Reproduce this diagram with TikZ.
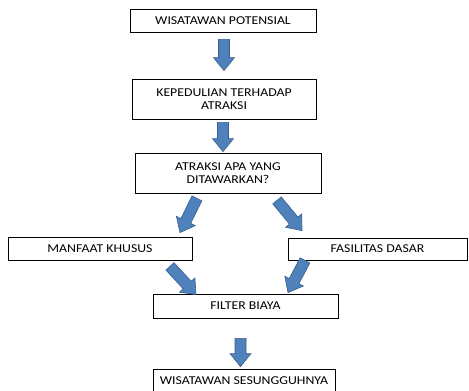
\documentclass[tikz,border=0pt]{standalone}
\usepackage{fontspec}
\setmainfont{Carlito}[FakeStretch=1.15]
\usepackage{xcolor}
\usetikzlibrary{calc}
\definecolor{arrowfill}{HTML}{4F81BD}
\definecolor{arrowline}{HTML}{385D8A}
\tikzset{
	kotak/.style={
			draw=black, line width=0.8pt, rectangle, inner sep=0pt, align=center,
			font=\fontsize{12}{13.5}\selectfont
		},
	blockarrow/.style={
			fill=arrowfill, draw=arrowline, line width=0.6pt, line join=miter,
			to path={
					($(\tikztotarget)!13pt!(\tikztostart)$) coordinate (bah)
					($(\tikztostart)!5.5pt!90:(\tikztotarget)$)
					-- ($(bah)!5.5pt!90:(\tikztotarget)$)
					-- ($(bah)!10.5pt!90:(\tikztotarget)$)
					-- (\tikztotarget)
					-- ($(bah)!10.5pt!-90:(\tikztotarget)$)
					-- ($(bah)!5.5pt!-90:(\tikztotarget)$)
					-- ($(\tikztostart)!5.5pt!-90:(\tikztotarget)$)
					-- cycle
				}
		}
}

\begin{document}
\begin{tikzpicture}[x=1pt, y=-1pt]
	\useasboundingbox (0,0) rectangle (469,391);

	\node[kotak, minimum width=186pt, minimum height=23pt] (wp) at (223,20.5) {WISATAWAN POTENSIAL};
	\node[kotak, minimum width=184pt, minimum height=40pt] (kt) at (224,99) {KEPEDULIAN TERHADAP\\ATRAKSI};
	\node[kotak, minimum width=186pt, minimum height=40pt] (tanya) at (228,173) {ATRAKSI APA YANG\\DITAWARKAN?};
	\node[kotak, minimum width=184pt, minimum height=23pt] (manfaat) at (100,248.5) {MANFAAT KHUSUS};
	\node[kotak, minimum width=179pt, minimum height=22pt] (fasilitas) at (377.5,249) {FASILITAS DASAR};
	\node[kotak, minimum width=185pt, minimum height=24pt] (filter) at (245.5,306) {FILTER BIAYA};
	\node[kotak, minimum width=182pt, minimum height=24pt] (sungguh) at (244,381) {WISATAWAN SESUNGGUHNYA};

	\draw[blockarrow] ([xshift=1pt,yshift=-7pt]wp.south) to ([yshift=8pt]kt.north);
	\draw[blockarrow] ([xshift=-1pt,yshift=-3pt]kt.south) to ([xshift=-5pt,yshift=1pt]tanya.north);
	\draw[blockarrow] ([xshift=-31pt,yshift=-5pt]tanya.south) to ([xshift=80pt,yshift=4pt]manfaat.north);
	\draw[blockarrow] ([xshift=49pt,yshift=-7pt]tanya.south) to ([xshift=-75.5pt,yshift=7pt]fasilitas.north);
	\draw[blockarrow] ([xshift=70pt,yshift=-6pt]manfaat.south) to ([xshift=-49.5pt,yshift=-1pt]filter.north);
	\draw[blockarrow] ([xshift=-72.5pt]fasilitas.south) to ([xshift=42.5pt,yshift=1pt]filter.north);
	\draw[blockarrow] ([xshift=-5pt,yshift=-20pt]filter.south) to ([xshift=-3.5pt,yshift=2pt]sungguh.north);
\end{tikzpicture}
\end{document}
